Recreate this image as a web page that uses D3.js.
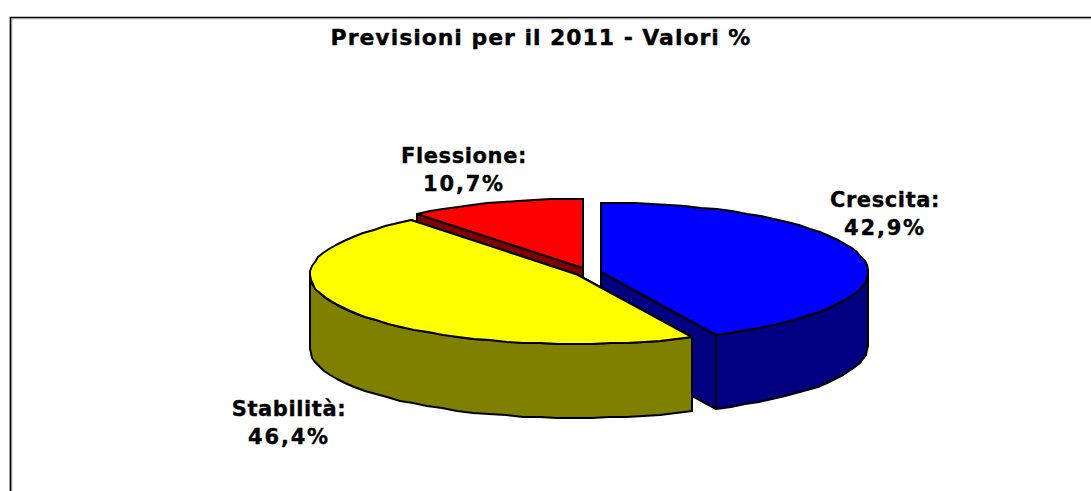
<!DOCTYPE html>
<html><head><meta charset="utf-8">
<script src="https://cdn.jsdelivr.net/npm/d3@7"></script>
<style>
html,body{margin:0;padding:0;background:#fff;overflow:hidden}
text{font-family:"DejaVu Sans",Verdana,sans-serif;font-weight:bold;fill:#000;stroke:#000;stroke-width:.35px;text-anchor:middle}
</style></head><body>
<svg id="c" width="1091" height="491"></svg>
<script>
const categories = ["Crescita", "Stabilità", "Flessione"];
const values = [42.9, 46.4, 10.7];
const valueLabels = ["42,9%", "46,4%", "10,7%"];
const topColors = ["#0000ff", "#ffff00", "#ff0000"];
const sideColors = ["#000080", "#808000", "#800000"];
const titleText = "Previsioni per il 2011 - Valori %";

const W = 1091, H = 491;
const svg = d3.select("#c");
// frame: soft inner shadow, then the dark top and left rules (no right rule in the crop)
svg.append("path").attr("d",d3.line()([[12,H],[12,19],[W,19]]))
  .attr("fill","none").attr("stroke","#c8c8c8").attr("stroke-width",1);
svg.append("path").attr("d",d3.line()([[10.5,H],[10.5,17.5],[W,17.5]]))
  .attr("fill","none").attr("stroke","#000").attr("stroke-width",1.7);

const rx = 267, ry = 69.5, depth = 74;
const centers = [[601,272],[577,274.5],[583,268]];
const labelPos = [[885,200],[289,409],[464,156]];

const pie = d3.pie().sort(null).value(d=>d).startAngle(0).endAngle(2*Math.PI);
const arcs = pie(values);
const STEP = Math.PI/48;
const GRID = 1;
const line = d3.line();
const snap = v=>Math.round(v/GRID)*GRID;
const pt = (c,a,dy=0)=>[snap(c[0]+rx*Math.sin(a)), snap(c[1]-ry*Math.cos(a))+dy];
function samples(a0,a1){
  const n = Math.max(1,Math.ceil((a1-a0)/STEP));
  return d3.range(n+1).map(i=>a0+(a1-a0)*i/n);
}
const stroke = (s)=>s.attr("stroke","#000").attr("stroke-width",2).attr("stroke-linejoin","round");

// back to front: red, blue, yellow
[2,0,1].forEach(i=>{
  const d = arcs[i], c = centers[i], g = svg.append("g");
  [d.startAngle,d.endAngle].forEach(a=>{
    g.append("path").attr("d",line([[c[0],c[1]],pt(c,a),pt(c,a,depth),[c[0],c[1]+depth]])+"Z")
     .attr("fill",sideColors[i]).call(stroke);
  });
  const a0 = Math.max(d.startAngle,Math.PI/2), a1 = Math.min(d.endAngle,3*Math.PI/2);
  if(a1>a0){
    const s = samples(a0,a1);
    const pts = s.map(a=>pt(c,a)).concat(s.slice().reverse().map(a=>pt(c,a,depth)));
    g.append("path").attr("d",line(pts)+"Z").attr("fill",sideColors[i]).call(stroke);
  }
  const top = [[c[0],c[1]]].concat(samples(d.startAngle,d.endAngle).map(a=>pt(c,a)));
  g.append("path").attr("d",line(top)+"Z").attr("fill",topColors[i]).call(stroke);
});

svg.append("text").attr("x",541).attr("y",45).attr("font-size",22).attr("letter-spacing",0.95).text(titleText);
categories.forEach((n,i)=>{
  const t = svg.append("text").attr("font-size",21);
  t.append("tspan").attr("x",labelPos[i][0]).attr("y",labelPos[i][1]+7).attr("letter-spacing",0.6).text(n+":");
  t.append("tspan").attr("x",labelPos[i][0]).attr("y",labelPos[i][1]+35).attr("letter-spacing",1.8).text(valueLabels[i]);
});
</script></body></html>
